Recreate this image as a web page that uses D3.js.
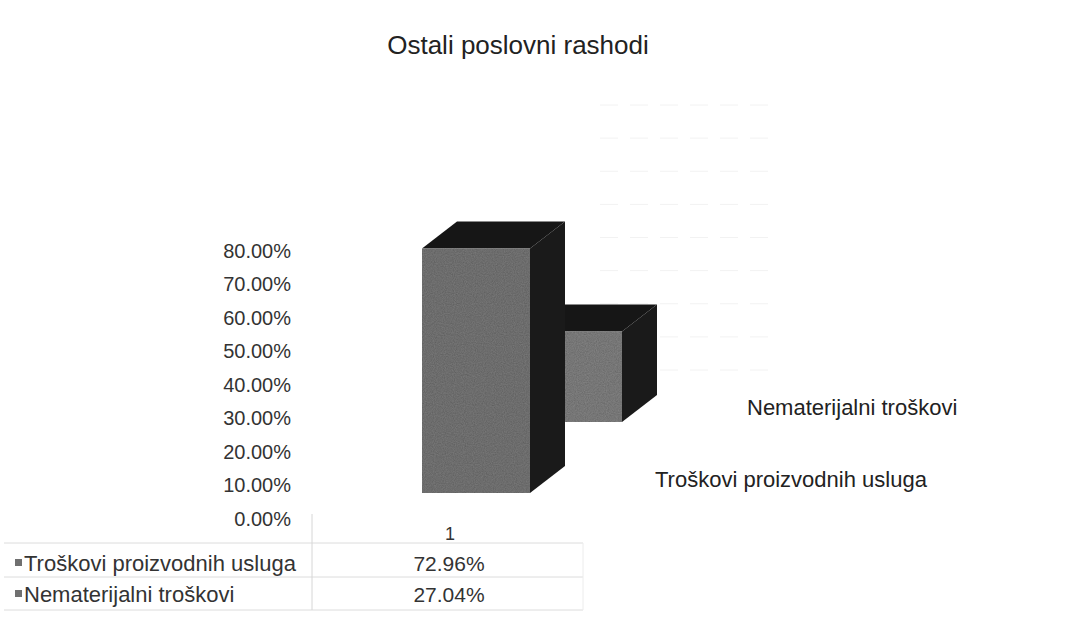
<!DOCTYPE html>
<html>
<head>
<meta charset="utf-8">
<script src="https://cdn.jsdelivr.net/npm/d3@7"></script>
<style>
  body { margin: 0; background: #fff; }
  text { font-family: "Liberation Sans", Arial, sans-serif; fill: #333; }
</style>
</head>
<body>
<svg id="chart" width="1073" height="639"></svg>
<script>
// data
const title = "Ostali poslovni rashodi";
const categories = ["1"];
const seriesNames = ["Troškovi proizvodnih usluga", "Nematerijalni troškovi"];
const seriesValues = [0.7296, 0.2704];
const yTicks = [0, 0.1, 0.2, 0.3, 0.4, 0.5, 0.6, 0.7, 0.8];

const svg = d3.select("#chart");
const fmt = d => (d * 100).toFixed(2) + "%";

// grainy scan look for the bar faces
const defs = svg.append("defs");
const grain = defs.append("filter").attr("id", "grain")
  .attr("x", 0).attr("y", 0).attr("width", 1).attr("height", 1);
grain.append("feTurbulence").attr("type", "fractalNoise")
  .attr("baseFrequency", 0.9).attr("numOctaves", 2).attr("seed", 3).attr("result", "noise");
grain.append("feColorMatrix").attr("in", "noise").attr("type", "matrix")
  .attr("values", "0 0 0 0 0  0 0 0 0 0  0 0 0 0 0  0 0 0 0.5 -0.1").attr("result", "dots");
grain.append("feComposite").attr("in", "dots").attr("in2", "SourceGraphic").attr("operator", "in").attr("result", "dots2");
grain.append("feMerge").selectAll("feMergeNode").data(["SourceGraphic", "dots2"])
  .enter().append("feMergeNode").attr("in", d => d);

// scales
const yAxisScale = d3.scaleLinear().domain([0, 0.8]).range([519, 251]);
const yBar = d3.scaleLinear().domain([0, 0.8]).range([493, 225]);
const yWall = d3.scaleLinear().domain([0, 0.8]).range([370, 105]);
const x = d3.scaleBand().domain(categories).range([422, 530]).padding(0);
// series rows go back into the picture
const rowX = d3.scaleLinear().domain([0, 1]).range([0, 92]);
const rowY = d3.scaleLinear().domain([0, 1]).range([0, -71]);
const depth = { dx: 35, dy: -27 };

// title
svg.append("text")
  .attr("x", 518).attr("y", 54)
  .attr("text-anchor", "middle")
  .style("font-size", "26px").style("fill", "#222")
  .text(title);

// faint gridlines on the back wall
svg.append("g").selectAll("line").data(yTicks).enter().append("line")
  .attr("x1", 600).attr("x2", 770)
  .attr("y1", d => yWall(d)).attr("y2", d => yWall(d))
  .style("stroke", "#f2f2f2").style("stroke-width", 1)
  .style("stroke-dasharray", "18 12");

// y axis labels
const yAxis = d3.axisLeft(yAxisScale).tickValues(yTicks).tickFormat(fmt).tickSize(0).tickPadding(4);
const gy = svg.append("g").attr("transform", "translate(295,0)").call(yAxis);
gy.select(".domain").remove();
gy.selectAll("text").style("font-size", "20px")
  .style("font-family", "'Liberation Sans', Arial, sans-serif").attr("fill", "#444");

// 3d columns, back row first
const bars = seriesValues.map((v, i) => ({ name: seriesNames[i], value: v, row: i, cat: categories[0] }))
  .sort((a, b) => b.row - a.row);

const barG = svg.append("g").selectAll("g").data(bars).enter().append("g")
  .attr("transform", d => "translate(" + rowX(d.row) + "," + rowY(d.row) + ")");

// top face
barG.append("path")
  .attr("d", d => {
    const l = x(d.cat), r = l + x.bandwidth(), t = yBar(d.value);
    return "M" + l + "," + t + "L" + (l + depth.dx) + "," + (t + depth.dy) +
      "L" + (r + depth.dx) + "," + (t + depth.dy) + "L" + r + "," + t + "Z";
  })
  .style("fill", "#161616");

// side face
barG.append("path")
  .attr("d", d => {
    const r = x(d.cat) + x.bandwidth(), t = yBar(d.value), b = yBar(0);
    return "M" + r + "," + t + "L" + (r + depth.dx) + "," + (t + depth.dy) +
      "L" + (r + depth.dx) + "," + (b + depth.dy) + "L" + r + "," + b + "Z";
  })
  .style("fill", "#1a1a1a");

// front face
barG.append("rect")
  .attr("x", d => x(d.cat))
  .attr("y", d => yBar(d.value))
  .attr("width", x.bandwidth())
  .attr("height", d => yBar(0) - yBar(d.value))
  .style("fill", d => d.row === 0 ? "#767676" : "#808080")
  .attr("filter", "url(#grain)");

// series labels along the depth axis
const depthLabels = [
  { name: seriesNames[0], x: 655, y: 487 },
  { name: seriesNames[1], x: 747, y: 415 }
];
svg.append("g").selectAll("text").data(depthLabels).enter().append("text")
  .attr("x", d => d.x).attr("y", d => d.y)
  .style("font-size", "22px").style("fill", "#222")
  .text(d => d.name);

// data table under the chart
const table = svg.append("g");
const rowLines = [543, 577, 610];
table.selectAll("line.h").data(rowLines).enter().append("line")
  .attr("x1", 4).attr("x2", 583)
  .attr("y1", d => d).attr("y2", d => d)
  .style("stroke", "#dcdcdc");
table.append("line").attr("x1", 312).attr("x2", 312).attr("y1", 514).attr("y2", 610).style("stroke", "#d6d6d6");
table.append("line").attr("x1", 583).attr("x2", 583).attr("y1", 543).attr("y2", 610).style("stroke", "#ececec");

table.append("text")
  .attr("x", 450).attr("y", 540).attr("text-anchor", "middle")
  .style("font-size", "18px").text(categories[0]);

const rowsY = [571, 602];
const tRows = table.selectAll("g.row").data(seriesNames).enter().append("g");
tRows.append("rect")
  .attr("x", 15).attr("y", (d, i) => rowsY[i] - 12)
  .attr("width", 7).attr("height", 7)
  .style("fill", "#707070");
tRows.append("text")
  .attr("x", 24).attr("y", (d, i) => rowsY[i])
  .style("font-size", "22px")
  .text(d => d);
tRows.append("text")
  .attr("x", 449).attr("y", (d, i) => rowsY[i])
  .attr("text-anchor", "middle")
  .style("font-size", "21px")
  .text((d, i) => fmt(seriesValues[i]));
</script>
</body>
</html>
